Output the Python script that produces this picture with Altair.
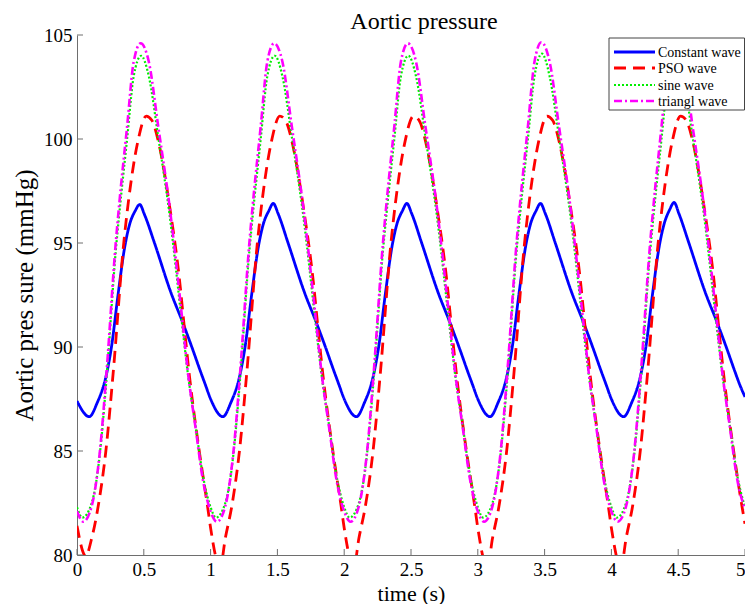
import altair as alt
import pandas as pd

# ---------------- data ----------------
TIME_CONSTANT = [
    0.000, 0.092, 0.150, 0.221, 0.258, 0.307, 0.357, 0.394, 0.436, 0.469, 0.506, 0.580, 0.704, 0.790, 0.865, 0.920, 0.960,
    1.000, 1.092, 1.150, 1.221, 1.258, 1.307, 1.357, 1.394, 1.436, 1.469, 1.506, 1.580, 1.704, 1.790, 1.865, 1.920, 1.960,
    2.000, 2.092, 2.150, 2.221, 2.258, 2.307, 2.357, 2.394, 2.436, 2.469, 2.506, 2.580, 2.704, 2.790, 2.865, 2.920, 2.960,
    3.000, 3.092, 3.150, 3.221, 3.258, 3.307, 3.357, 3.394, 3.436, 3.469, 3.506, 3.580, 3.704, 3.790, 3.865, 3.920, 3.960,
    4.000, 4.092, 4.150, 4.221, 4.258, 4.307, 4.357, 4.394, 4.436, 4.469, 4.506, 4.580, 4.704, 4.790, 4.865, 4.920, 4.960,
    5.000,
]
CONSTANT_WAVE = [
    87.40, 86.65, 87.30, 88.70, 90.00, 92.50, 94.80, 95.90, 96.55, 96.85, 96.35, 95.00, 92.60, 91.20, 89.90, 88.90, 88.20,
    87.50, 86.65, 87.30, 88.70, 90.00, 92.50, 94.80, 95.90, 96.55, 96.90, 96.40, 95.00, 92.60, 91.20, 89.90, 88.90, 88.20,
    87.50, 86.65, 87.30, 88.70, 90.00, 92.50, 94.80, 95.90, 96.55, 96.90, 96.40, 95.00, 92.60, 91.20, 89.90, 88.90, 88.20,
    87.50, 86.65, 87.30, 88.70, 90.00, 92.50, 94.80, 95.90, 96.55, 96.90, 96.40, 95.00, 92.60, 91.20, 89.90, 88.90, 88.20,
    87.50, 86.65, 87.30, 88.70, 90.00, 92.50, 94.80, 95.90, 96.60, 96.95, 96.40, 95.00, 92.60, 91.20, 89.90, 88.90, 88.20,
    87.60,
]

TIME_PSO = [
    0.000, 0.065, 0.110, 0.160, 0.216, 0.270, 0.350, 0.385, 0.456, 0.518, 0.560, 0.612, 0.655, 0.690, 0.766, 0.804, 0.840, 0.915, 0.977,
    1.000, 1.072, 1.110, 1.160, 1.216, 1.270, 1.350, 1.385, 1.456, 1.518, 1.560, 1.612, 1.655, 1.690, 1.766, 1.804, 1.840, 1.915, 1.977,
    2.000, 2.072, 2.110, 2.160, 2.216, 2.270, 2.350, 2.385, 2.456, 2.518, 2.560, 2.612, 2.655, 2.690, 2.766, 2.804, 2.840, 2.915, 2.977,
    3.000, 3.072, 3.110, 3.160, 3.216, 3.270, 3.350, 3.385, 3.456, 3.518, 3.560, 3.612, 3.655, 3.690, 3.766, 3.804, 3.840, 3.915, 3.977,
    4.000, 4.072, 4.110, 4.160, 4.216, 4.270, 4.350, 4.385, 4.456, 4.518, 4.560, 4.612, 4.655, 4.690, 4.766, 4.804, 4.840, 4.915, 4.977,
    5.000,
]
PSO_WAVE = [
    81.40, 79.95, 80.80, 82.40, 85.00, 88.70, 95.00, 97.00, 99.90, 101.10, 100.90, 99.80, 98.35, 96.90, 93.30, 90.90, 88.70, 85.00, 82.35,
    81.30, 79.40, 80.80, 82.40, 85.00, 88.70, 95.00, 97.00, 99.90, 101.10, 100.90, 99.80, 98.35, 96.90, 93.30, 90.90, 88.70, 85.00, 82.35,
    81.30, 79.40, 80.80, 82.40, 85.00, 88.70, 95.00, 97.00, 99.90, 101.10, 100.90, 99.80, 98.35, 96.90, 93.30, 90.90, 88.70, 85.00, 82.35,
    81.30, 79.40, 80.80, 82.40, 85.00, 88.70, 95.00, 97.00, 99.90, 101.10, 100.90, 99.80, 98.35, 96.90, 93.30, 90.90, 88.70, 85.00, 82.35,
    81.30, 79.40, 80.80, 82.40, 85.00, 88.70, 95.00, 97.00, 99.90, 101.10, 100.90, 99.80, 98.35, 96.90, 93.30, 90.90, 88.70, 85.00, 82.35,
    81.50,
]

TIME_SINE = [
    0.000, 0.040, 0.110, 0.170, 0.220, 0.290, 0.315, 0.375, 0.424, 0.480, 0.538, 0.608, 0.692, 0.790, 0.828, 0.890, 0.940,
    1.000, 1.040, 1.110, 1.170, 1.220, 1.290, 1.315, 1.375, 1.424, 1.480, 1.538, 1.608, 1.692, 1.790, 1.828, 1.890, 1.940,
    2.000, 2.040, 2.110, 2.170, 2.220, 2.290, 2.315, 2.375, 2.424, 2.480, 2.538, 2.608, 2.692, 2.790, 2.828, 2.890, 2.940,
    3.000, 3.040, 3.110, 3.170, 3.220, 3.290, 3.315, 3.375, 3.424, 3.480, 3.538, 3.608, 3.692, 3.790, 3.828, 3.890, 3.940,
    4.000, 4.040, 4.110, 4.170, 4.220, 4.290, 4.315, 4.375, 4.424, 4.480, 4.538, 4.608, 4.692, 4.790, 4.828, 4.890, 4.940,
    5.000,
]
SINE_WAVE = [
    82.30, 81.80, 82.50, 84.80, 88.40, 94.60, 96.30, 100.00, 103.00, 104.00, 103.00, 100.10, 96.40, 90.90, 88.80, 86.10, 83.90,
    82.30, 81.80, 82.50, 84.80, 88.40, 94.60, 96.30, 100.00, 103.00, 104.00, 103.00, 100.10, 96.40, 90.90, 88.80, 86.10, 83.90,
    82.30, 81.80, 82.50, 84.80, 88.40, 94.60, 96.30, 100.00, 103.00, 104.00, 103.00, 100.10, 96.40, 90.90, 88.80, 86.10, 83.90,
    82.30, 81.80, 82.50, 84.80, 88.40, 94.60, 96.30, 100.00, 103.00, 104.10, 103.00, 100.10, 96.40, 90.90, 88.80, 86.10, 83.90,
    82.30, 81.80, 82.50, 84.80, 88.40, 94.60, 96.30, 100.00, 103.00, 104.10, 103.00, 100.10, 96.40, 90.90, 88.80, 86.10, 83.90,
    82.30,
]

TIME_TRIANGLE = [
    0.000, 0.047, 0.110, 0.170, 0.220, 0.290, 0.315, 0.375, 0.424, 0.476, 0.538, 0.608, 0.692, 0.790, 0.828, 0.890, 0.940,
    1.000, 1.047, 1.110, 1.170, 1.220, 1.290, 1.315, 1.375, 1.424, 1.476, 1.538, 1.608, 1.692, 1.790, 1.828, 1.890, 1.940,
    2.000, 2.047, 2.110, 2.170, 2.220, 2.290, 2.315, 2.375, 2.424, 2.476, 2.538, 2.608, 2.692, 2.790, 2.828, 2.890, 2.940,
    3.000, 3.047, 3.110, 3.170, 3.220, 3.290, 3.315, 3.375, 3.424, 3.476, 3.538, 3.608, 3.692, 3.790, 3.828, 3.890, 3.940,
    4.000, 4.047, 4.110, 4.170, 4.220, 4.290, 4.315, 4.375, 4.424, 4.476, 4.538, 4.608, 4.692, 4.790, 4.828, 4.890, 4.940,
    5.000,
]
TRIANGLE_WAVE = [
    82.10, 81.60, 82.35, 84.90, 88.70, 95.00, 96.80, 100.60, 103.70, 104.60, 103.70, 100.60, 96.80, 91.20, 88.90, 86.00, 83.70,
    82.10, 81.60, 82.35, 84.90, 88.70, 95.00, 96.80, 100.60, 103.70, 104.60, 103.70, 100.60, 96.80, 91.20, 88.90, 86.00, 83.70,
    82.10, 81.60, 82.35, 84.90, 88.70, 95.00, 96.80, 100.60, 103.70, 104.60, 103.70, 100.60, 96.80, 91.20, 88.90, 86.00, 83.70,
    82.10, 81.60, 82.35, 84.90, 88.70, 95.00, 96.80, 100.60, 103.70, 104.65, 103.70, 100.60, 96.80, 91.20, 88.90, 86.00, 83.70,
    82.10, 81.60, 82.35, 84.90, 88.70, 95.00, 96.80, 100.60, 103.70, 104.65, 103.70, 100.60, 96.80, 91.20, 88.90, 86.00, 83.70,
    82.20,
]

X_TICKS = [0, 0.5, 1, 1.5, 2, 2.5, 3, 3.5, 4, 4.5, 5]
Y_TICKS = [80, 85, 90, 95, 100, 105]
LEGEND_LABELS = ["Constant wave", "PSO wave", "sine wave", "triangl wave"]
TITLE = "Aortic pressure"
X_TITLE = "time (s)"
Y_TITLE = "Aortic pres sure (mmHg)"

# ---------------- styling ----------------
W, H = 668, 520
PAD_L, PAD_T, PAD_R, PAD_B = 69, 27, 0, 49
FONT = "Liberation Serif"
AXIS_GRAY = "#6e6e6e"
COLORS = ["#0000ff", "#ff0000", "#00ee00", "#ff00ff"]
DASHES = [[1, 0], [12, 7], [2, 2], [8, 3, 2, 3]]
WIDTHS = [2.8, 2.8, 2.2, 2.6]

x_scale = alt.Scale(domain=[0, 5], nice=False, zero=False)
y_scale = alt.Scale(domain=[80, 105], nice=False, zero=False)

x_axis = alt.Axis(
    values=X_TICKS, format="~g", title=X_TITLE, grid=False, ticks=False,
    domainColor=AXIS_GRAY, domainWidth=1, labelFont=FONT, labelFontSize=19,
    labelColor="black", labelPadding=5, labelFlush=False, labelOverlap=False,
    labelAlign={"condition": {"test": "datum.value >= 5", "value": "right"}, "value": "center"},
    titleFont=FONT, titleFontSize=22, titleFontWeight="normal", titleColor="black",
    titleBaseline="alphabetic", titleY=45,
)
y_axis = alt.Axis(
    values=Y_TICKS, format="~g", title=Y_TITLE, grid=False, ticks=False,
    domainColor=AXIS_GRAY, domainWidth=1, labelFont=FONT, labelFontSize=19,
    labelColor="black", labelPadding=5, labelFlush=False, labelOverlap=False,
    titleFont=FONT, titleFontSize=25, titleFontWeight="normal", titleColor="black",
    titlePadding=6,
)

series = [
    (TIME_CONSTANT, CONSTANT_WAVE),
    (TIME_PSO, PSO_WAVE),
    (TIME_SINE, SINE_WAVE),
    (TIME_TRIANGLE, TRIANGLE_WAVE),
]

X_ENC = lambda: alt.X("t:Q", scale=x_scale, axis=x_axis)
Y_ENC = lambda: alt.Y("v:Q", scale=y_scale, axis=y_axis)

layers = []
for i, (t, v) in enumerate(series):
    df = pd.DataFrame({"t": t, "v": v})
    layers.append(
        alt.Chart(df).mark_line(
            color=COLORS[i], strokeDash=DASHES[i], strokeWidth=WIDTHS[i],
            clip=True, interpolate="monotone",
        ).encode(x=X_ENC(), y=Y_ENC())
    )

# inward tick marks (MATLAB style)
xticks = alt.Chart(pd.DataFrame({"t": X_TICKS})).mark_rule(color=AXIS_GRAY, strokeWidth=1).encode(
    x=X_ENC(), y=alt.value(H), y2=alt.value(H - 6)
)
yticks = alt.Chart(pd.DataFrame({"v": Y_TICKS})).mark_rule(color=AXIS_GRAY, strokeWidth=1).encode(
    y=Y_ENC(), x=alt.value(0), x2=alt.value(6)
)

# legend box
LX0, LX1, LY0, LY1 = W - 136, W, 3, 75
ROWS = [17, 33, 50, 66]
legend_box = alt.Chart(pd.DataFrame({"k": [0]})).mark_rect(
    fill="white", stroke="#444444", strokeWidth=1
).encode(x=alt.value(LX0), x2=alt.value(LX1 - 0.5), y=alt.value(LY0), y2=alt.value(LY1))

legend_layers = [legend_box]
for i, lab in enumerate(LEGEND_LABELS):
    d = pd.DataFrame({"label": [lab]})
    legend_layers.append(
        alt.Chart(d).mark_rule(color=COLORS[i], strokeDash=DASHES[i], strokeWidth=WIDTHS[i]).encode(
            x=alt.value(LX0 + 5), x2=alt.value(LX0 + 46), y=alt.value(ROWS[i])
        )
    )
    legend_layers.append(
        alt.Chart(d).mark_text(align="left", baseline="middle", font=FONT, fontSize=14, color="black").encode(
            x=alt.value(LX0 + 49), y=alt.value(ROWS[i] + 1), text="label:N"
        )
    )

chart = alt.layer(*layers, xticks, yticks, *legend_layers).properties(
    width=W,
    height=H,
    title=alt.TitleParams(TITLE, font=FONT, fontSize=24, fontWeight="normal", color="black",
                          anchor="middle", offset=4, dx=13, dy=12),
    autosize=alt.AutoSizeParams(type="none"),
    padding={"left": PAD_L, "top": PAD_T, "right": PAD_R, "bottom": PAD_B},
    background="white",
).configure_view(stroke=None)

chart.save("out.html", embed_options={"renderer": "svg", "actions": False})
